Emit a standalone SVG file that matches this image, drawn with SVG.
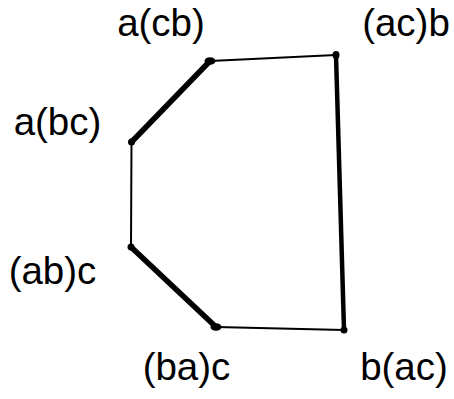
<svg xmlns="http://www.w3.org/2000/svg" width="454" height="399" viewBox="0 0 454 399">
<style>
.lbl{font-family:"Liberation Sans",Arial,Helvetica,sans-serif;font-size:38.5px;fill:#000;text-anchor:middle}
.thin{stroke:#000;stroke-width:2;fill:none;stroke-linecap:round}
.thick{stroke:#000;stroke-width:5.5;fill:none;stroke-linecap:round}
.thickv{stroke:#000;stroke-width:4.5;fill:none;stroke-linecap:round}
.dot{fill:#000}
</style>
<rect width="454" height="399" fill="#fff"/>
<g id="connectors">
<line class="thick" x1="210" y1="61" x2="131.5" y2="142"/>
<line class="thin" x1="210" y1="61" x2="336" y2="55"/>
<line class="thickv" x1="336" y1="55" x2="344" y2="330"/>
<line class="thin" x1="131.5" y1="142" x2="131" y2="247"/>
<line class="thick" x1="131" y1="247" x2="216" y2="327"/>
<line class="thin" x1="216" y1="327" x2="344" y2="330"/>
</g>
<g id="n-acb"><ellipse class="dot" cx="210" cy="61" rx="5.5" ry="3.8"/><text class="lbl" x="161" y="36">a(cb)</text></g>
<g id="n-ac-b"><ellipse class="dot" cx="336" cy="55" rx="3.5" ry="4"/><text class="lbl" x="406" y="36">(ac)b</text></g>
<g id="n-abc"><circle class="dot" cx="131.5" cy="142" r="3.5"/><text class="lbl" x="57.5" y="135">a(bc)</text></g>
<g id="n-ab-c"><circle class="dot" cx="131" cy="247" r="3.5"/><text class="lbl" x="52.5" y="284">(ab)c</text></g>
<g id="n-ba-c"><ellipse class="dot" cx="216" cy="327" rx="5.5" ry="3.8"/><text class="lbl" x="186.5" y="380">(ba)c</text></g>
<g id="n-bac"><circle class="dot" cx="344" cy="330" r="3.5"/><text class="lbl" x="404" y="380">b(ac)</text></g>
</svg>
